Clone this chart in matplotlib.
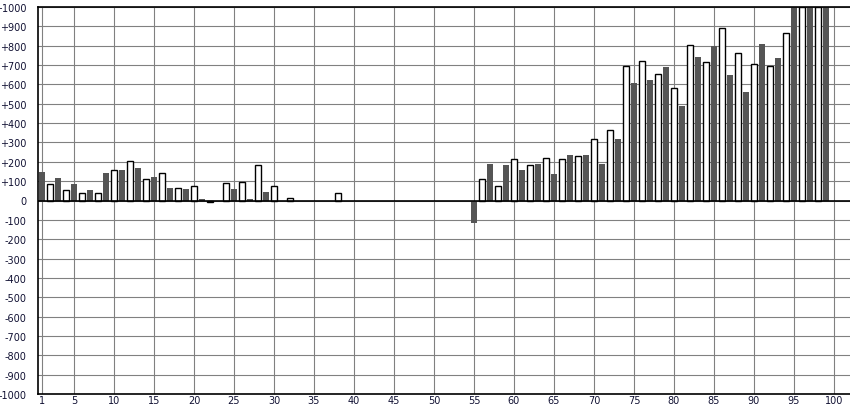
import numpy as np
import matplotlib
matplotlib.use("Agg")
import matplotlib.pyplot as plt

# values at odd x (dark bars) and even x (white bars)
odd_x = list(range(1, 100, 2))
dark_vals = [147, 116, 84, 53, 142, 158, 168, 121, 63, 58, 10,
             0, 60, 7, 46, 0, 0, 0, 0, 0, 0, 0, 0, 0, 0, 0, 0,
             -114, 191, 186, 158, 191, 137, 233, 233, 191, 320,
             608, 623, 691, 489, 743, 796, 649, 561, 810, 737,
             1000, 1000, 1000]

even_x = list(range(2, 101, 2))
white_vals = [84, 53, 37, 37, 158, 205, 110, 142, 63, 74, -7,
              91, 96, 186, 75, 12, 0, 0, 39,
              0, 0, 0, 0, 0, 0, 0, 0,
              110, 74, 216, 184, 221, 216, 232, 316, 365,
              694, 722, 653, 580, 803, 715, 891, 762, 705, 694, 865,
              1000, 1000, 0]

x_ticks = [1] + list(range(5, 101, 5))
y_ticks = list(range(-1000, 1001, 100))
y_labels = [("+%d" % v) if v > 0 else str(v) for v in y_ticks]

fig = plt.figure(figsize=(8.5, 4.06), dpi=100)
ax = fig.add_axes([38 / 850, 11 / 406, 1 - 38 / 850, 387 / 406])

ax.set_axisbelow(True)
# skip empty slots so no stray edges are drawn on the zero line
dx = [x for x, v in zip(odd_x, dark_vals) if v != 0]
dv = [v for v in dark_vals if v != 0]
wx = [x for x, v in zip(even_x, white_vals) if v != 0]
wv = [v for v in white_vals if v != 0]
ax.bar(dx, dv, width=0.75, color="#555555", linewidth=0)
ax.bar(wx, wv, width=0.75, color="white", edgecolor="black", linewidth=1.0)
ax.axhline(0, color="black", linewidth=1.2)

ax.set_xlim(0.5, 102)
ax.set_ylim(-1000, 1000)
ax.set_xticks(x_ticks)
ax.set_yticks(y_ticks)
ax.set_yticklabels(y_labels)
ax.tick_params(length=0, labelsize=7, colors="#111133")
ax.tick_params(axis="y", pad=8)
ax.tick_params(axis="x", pad=1)
ax.grid(True, color="#808080", linewidth=0.8)

for side in ["left", "top", "bottom"]:
    ax.spines[side].set_color("black")
    ax.spines[side].set_linewidth(1.2)
ax.spines["right"].set_visible(False)

plt.savefig("out.png", dpi=100)
